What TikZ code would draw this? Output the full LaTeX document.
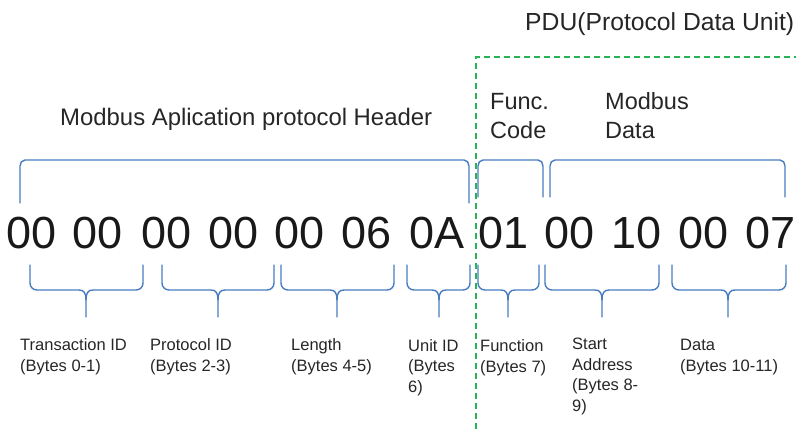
\documentclass[tikz,border=0pt]{standalone}
\usepackage{fontspec}
\setmainfont{Liberation Sans}
\definecolor{brblue}{RGB}{72,124,192}
\definecolor{pdugreen}{RGB}{40,180,85}
\newcommand{\topbr}[3]{\draw[brace] (#1,#3) -- (#1,166) to[out=90,in=180] ({#1+5},160) -- ({#2-5},160) to[out=0,in=90] (#2,166) -- (#2,#3);}
\newcommand{\botbr}[3]{%
\draw[brace] (#1,265) -- (#1,283) to[out=-90,in=180] ({#1+7},290) -- ({#3-7},290) .. controls ({#3-2},290) and (#3,293) .. (#3,300) -- (#3,317);
\draw[brace] (#2,265) -- (#2,283) to[out=-90,in=0] ({#2-7},290) -- ({#3+7},290) .. controls ({#3+2},290) and (#3,293) .. (#3,300);}
\begin{document}
\begin{tikzpicture}[x=1pt,y=-1pt,
  brace/.style={draw=brblue,line width=1.4pt,line cap=round},
  byte/.style={anchor=base,inner sep=0pt,font=\fontsize{45}{50}\selectfont,text=black!90},
  head/.style={anchor=base west,inner sep=0pt,font=\fontsize{23.5}{29}\selectfont,text=black!85},
  lbl/.style={anchor=base west,inner sep=0pt,align=left,font=\fontsize{16.5}{20.5}\selectfont,text=black!85}]
\useasboundingbox (0,0) rectangle (796,429);
\clip (0,0) rectangle (796,429);
% PDU frame
\draw[pdugreen,line width=1.3pt,dash pattern=on 6pt off 4pt] (476,429) -- (476,57) -- (800,57);
% headers
\node[head,font=\fontsize{24.7}{29}\selectfont] (pdu) at (525,30) {PDU(Protocol Data Unit)};
\node[head,font=\fontsize{23.9}{29}\selectfont] (mbap) at (60,125) {Modbus Aplication protocol Header};
\node[head,align=left] (fc) at (490,138) {Func.\\Code};
\node[head,align=left] (md) at (605,138) {Modbus\\Data};
% bytes
\node[byte] (b0) at (32,248) {00};
\node[byte] (b1) at (98,248) {00};
\node[byte] (b2) at (167,248) {00};
\node[byte] (b3) at (234,248) {00};
\node[byte] (b4) at (300,248) {00};
\node[byte] (b5) at (367,248) {06};
\node[byte] (b6) at (437,248) {0A};
\node[byte] (b7) at (504,248) {01};
\node[byte] (b8) at (570,248) {00};
\node[byte] (b9) at (637,248) {10};
\node[byte] (b10) at (704,248) {00};
\node[byte] (b11) at (771,248) {07};
% top brackets
\topbr{20}{469}{203}
\topbr{478}{543}{197}
\topbr{550}{785}{197}
% bottom braces
\botbr{30}{143}{86}
\botbr{162}{274}{218}
\botbr{281}{394}{337}
\botbr{407}{470}{439}
\botbr{478}{539}{508}
\botbr{545}{659}{602}
\botbr{672}{786}{728}
% labels (base anchor = last line)
\node[lbl] (l0) at (20,371) {Transaction ID\\(Bytes 0-1)};
\node[lbl] (l1) at (150,371) {Protocol ID\\(Bytes 2-3)};
\node[lbl] (l2) at (291,371) {Length\\(Bytes 4-5)};
\node[lbl] (l3) at (408,392) {Unit ID\\(Bytes\\6)};
\node[lbl] (l4) at (480,372) {Function\\(Bytes 7)};
\node[lbl] (l5) at (572,411) {Start\\Address\\(Bytes 8-\\9)};
\node[lbl] (l6) at (680,371) {Data\\(Bytes 10-11)};
\end{tikzpicture}
\end{document}
